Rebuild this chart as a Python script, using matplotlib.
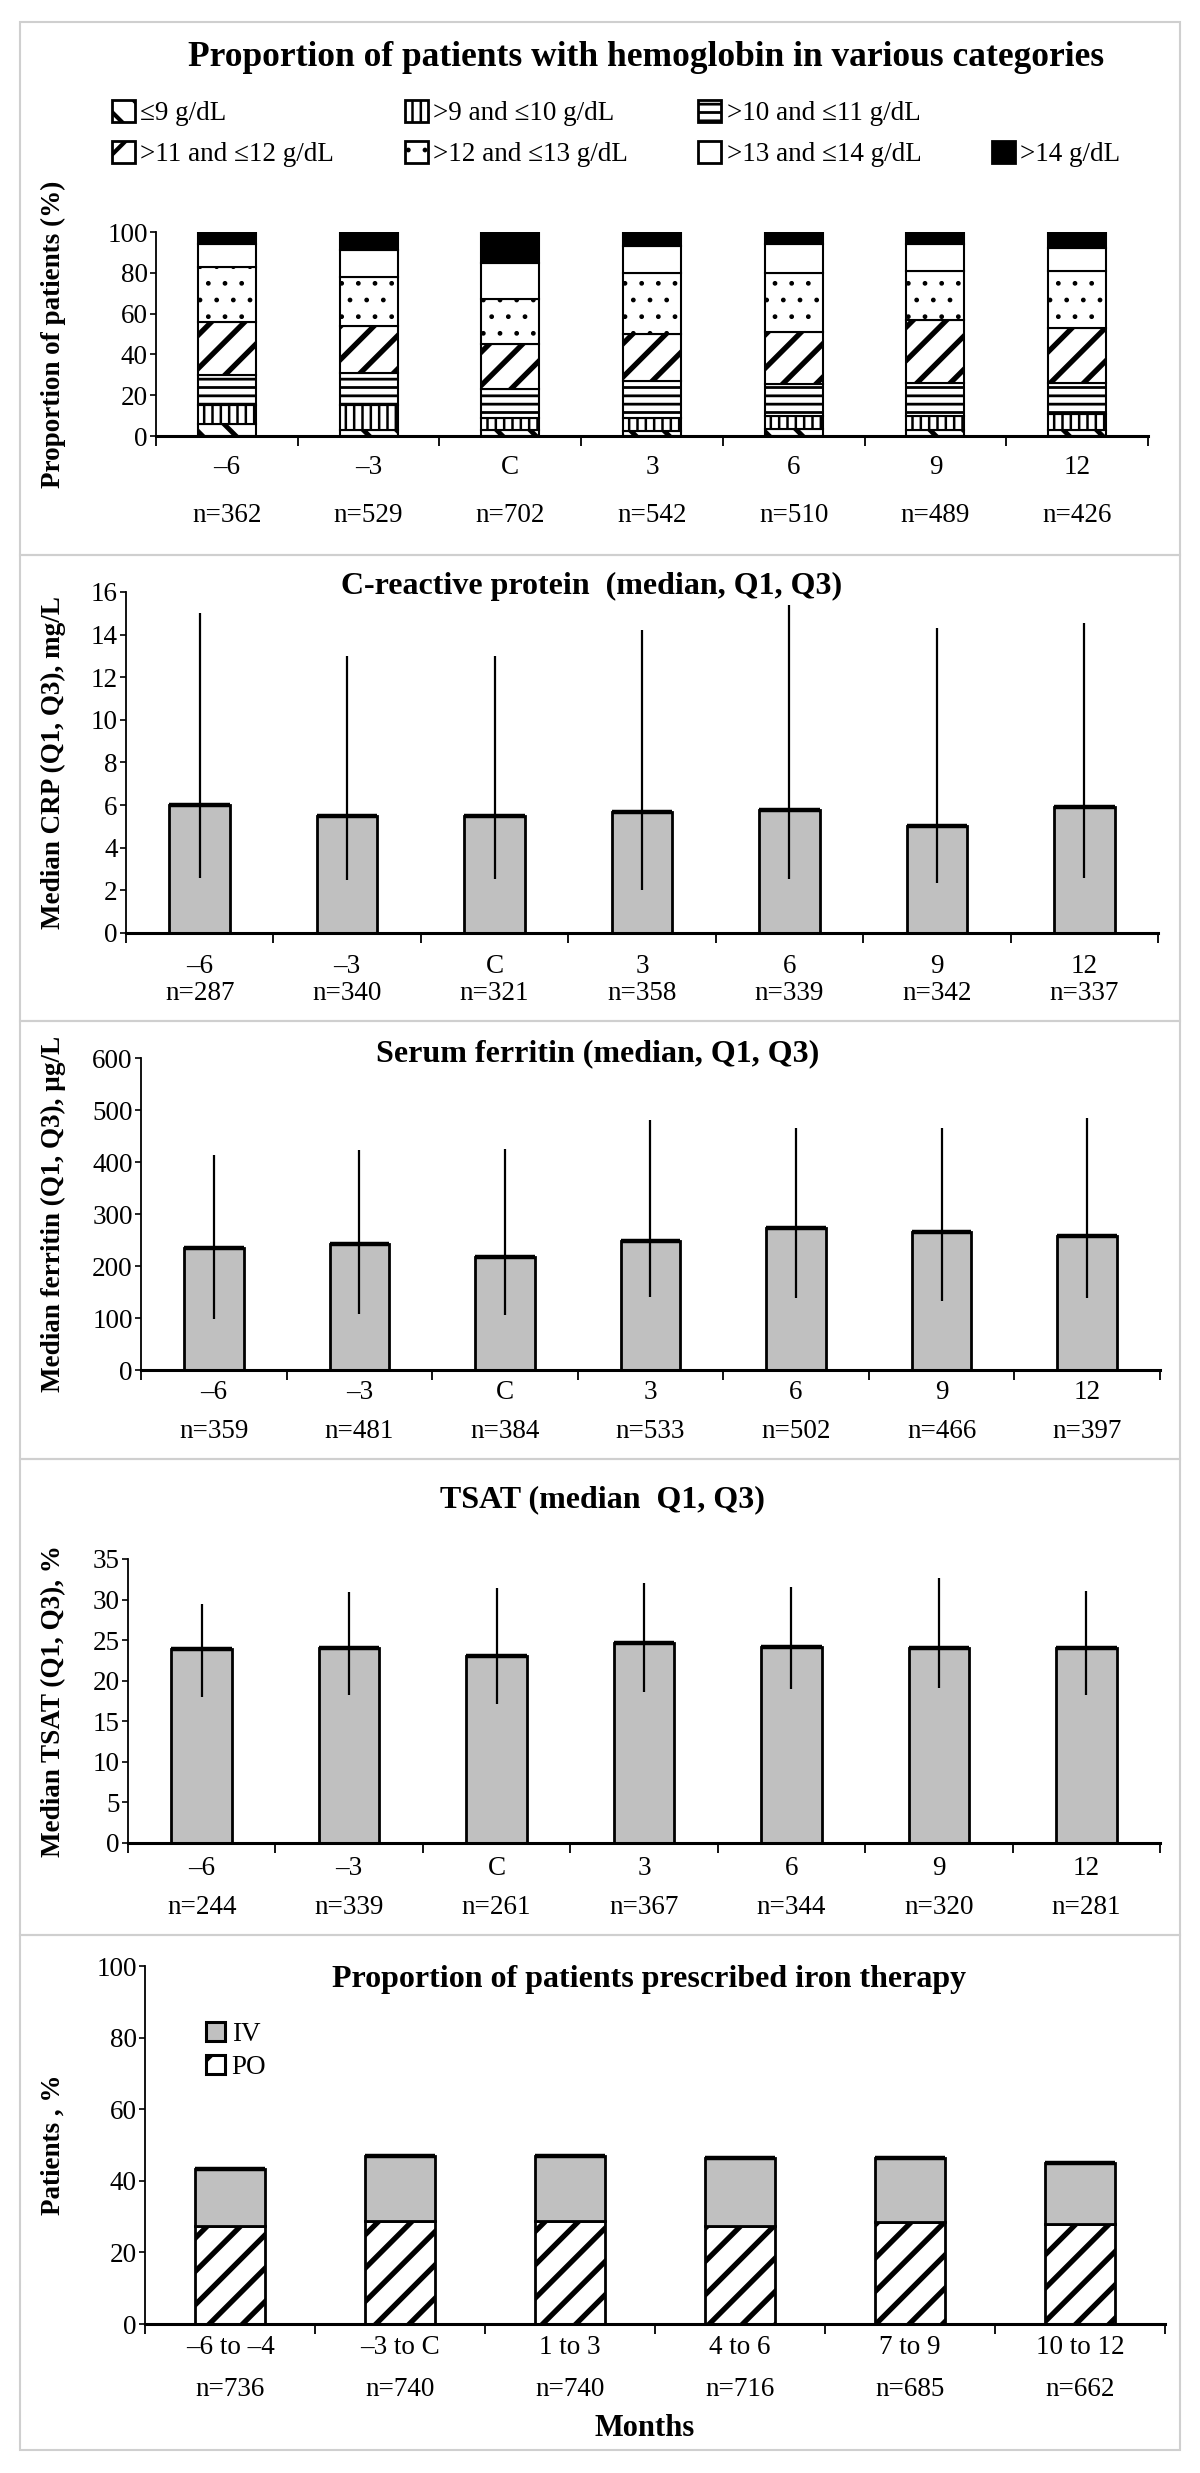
import numpy as np
import matplotlib.pyplot as plt
import matplotlib.patches as mpatches

plt.rcParams['font.family'] = ['Liberation Serif', 'DejaVu Serif']

# ---- data ----
months = ['–6', '–3', 'C', '3', '6', '9', '12']

hb_n = [362, 529, 702, 542, 510, 489, 426]
hb_labels = ['≤9 g/dL', '>9 and ≤10 g/dL', '>10 and ≤11 g/dL', '>11 and ≤12 g/dL',
             '>12 and ≤13 g/dL', '>13 and ≤14 g/dL', '>14 g/dL']
hb_le9 = [6, 3, 3, 2.5, 3.5, 3, 3]
hb_9_10 = [9, 12, 6, 6.5, 6.5, 7, 8]
hb_10_11 = [15, 16, 14, 18, 15.5, 16, 15]
hb_11_12 = [26, 23, 22, 23, 25.5, 31, 27]
hb_12_13 = [27, 24, 22, 30, 29, 24, 28]
hb_13_14 = [11, 13, 18, 13, 14, 13, 11]
hb_gt14 = [6, 9, 15, 7, 6, 6, 8]

crp_n = [287, 340, 321, 358, 339, 342, 337]
crp_median = [6.0, 5.5, 5.5, 5.7, 5.75, 5.0, 5.9]
crp_q1 = [2.6, 2.5, 2.55, 2.0, 2.55, 2.35, 2.6]
crp_q3 = [15.0, 13.0, 13.0, 14.2, 15.4, 14.3, 14.55]

ferritin_n = [359, 481, 384, 533, 502, 466, 397]
ferritin_median = [234, 243, 218, 249, 274, 265, 257]
ferritin_q1 = [98, 108, 106, 140, 138, 133, 138]
ferritin_q3 = [414, 423, 425, 481, 465, 465, 485]

tsat_n = [244, 339, 261, 367, 344, 320, 281]
tsat_median = [23.9, 24.0, 23.1, 24.7, 24.1, 24.0, 24.0]
tsat_q1 = [18.0, 18.2, 17.1, 18.6, 19.0, 19.1, 18.2]
tsat_q3 = [29.5, 30.9, 31.4, 32.1, 31.6, 32.6, 31.1]

iron_periods = ['–6 to –4', '–3 to C', '1 to 3', '4 to 6', '7 to 9', '10 to 12']
iron_n = [736, 740, 740, 716, 685, 662]
iron_po = [27.5, 28.9, 28.9, 27.5, 28.4, 28.0]
iron_iv = [15.8, 18.0, 18.0, 18.8, 18.0, 17.0]

# ---- layout ----
W, H = 1200, 2473
fig = plt.figure(figsize=(W / 100, H / 100), dpi=100)

GREY = '#c0c0c0'
TICK_FS = 19.5
YLAB_FS = 19.5
TITLE_FS = 23
BAR_W = 0.41
YLAB_X = 66


def add_ax(left, right, top, bottom):
    return fig.add_axes([left / W, 1 - bottom / H, (right - left) / W, (bottom - top) / H])


def style_axes(ax, labels, ns, left, right, ylabel, month_gap, n_gap, yticks):
    k = len(labels)
    x = np.arange(k)
    ax.set_xlim(-0.5, k - 0.5)
    ax.set_ylim(yticks[0], yticks[-1])
    ax.set_yticks(yticks)
    ax.set_xticks(x)
    ax.set_xticklabels(labels)
    ax.set_xticks(np.arange(k + 1) - 0.5, minor=True)
    ax.tick_params(axis='x', which='major', length=0, labelsize=TICK_FS,
                   pad=(month_gap - 15) * 0.72)
    ax.tick_params(axis='x', which='minor', length=7, width=1.3, direction='out')
    ax.tick_params(axis='y', length=4, width=1.2, direction='out', labelsize=TICK_FS, pad=2)
    for s in ('top', 'right'):
        ax.spines[s].set_visible(False)
    ax.spines['left'].set_linewidth(1.3)
    ax.spines['bottom'].set_linewidth(2.2)
    ax.spines['bottom'].set_zorder(5)
    for xi, n in zip(x, ns):
        ax.annotate(f'n={n}', xy=(xi, 0), xycoords=('data', 'axes fraction'),
                    xytext=(0, -n_gap * 0.72), textcoords='offset points',
                    ha='center', va='center', fontsize=TICK_FS)
    ax.set_ylabel(ylabel, fontsize=YLAB_FS, fontweight='bold')
    ax.yaxis.set_label_coords((YLAB_X - left) / (right - left), 0.5)
    return x


def median_panel(left, right, top, bottom, med, q1, q3, ns, ylabel, yticks, month_gap, n_gap):
    ax = add_ax(left, right, top, bottom)
    x = style_axes(ax, months, ns, left, right, ylabel, month_gap, n_gap, yticks)
    ax.bar(x, med, width=BAR_W, color=GREY, edgecolor='black', linewidth=2, zorder=2)
    ax.hlines(med, x - BAR_W / 2, x + BAR_W / 2, color='black', linewidth=3.2, zorder=3)
    ax.vlines(x, q1, q3, color='black', linewidth=1.6, zorder=4)
    return ax


# panel borders
for top, bottom in [(22, 555), (555, 1021), (1021, 1459), (1459, 1935), (1935, 2450)]:
    fig.add_artist(mpatches.Rectangle((20 / W, 1 - bottom / H), 1160 / W, (bottom - top) / H,
                                      transform=fig.transFigure, fill=False,
                                      edgecolor='#cfcfcf', linewidth=1.5))

# ---- panel 1: hemoglobin categories ----
hb_series = [hb_le9, hb_9_10, hb_10_11, hb_11_12, hb_12_13, hb_13_14, hb_gt14]
hb_styles = [
    dict(facecolor='white', hatch='\\', lw=3.5),
    dict(facecolor='white', hatch='||', lw=1.8),
    dict(facecolor='white', hatch='--', lw=2.0),
    dict(facecolor='white', hatch='/', lw=3.8),
    dict(facecolor='white', hatch='.', lw=1.0),
    dict(facecolor='white', hatch=None, lw=1.0),
    dict(facecolor='black', hatch=None, lw=1.0),
]
ax1 = add_ax(156, 1148, 232, 436)
x1 = style_axes(ax1, months, hb_n, 156, 1148, 'Proportion of patients (%)', 34, 79,
                np.arange(0, 101, 20))
bottom_acc = np.zeros(len(months))
for vals, st in zip(hb_series, hb_styles):
    bars = ax1.bar(x1, vals, bottom=bottom_acc, width=BAR_W, facecolor=st['facecolor'],
                   edgecolor='black', linewidth=1.5, hatch=st['hatch'], zorder=2)
    for b in bars:
        b.set_hatch_linewidth(st['lw'])
    bottom_acc = bottom_acc + np.array(vals)

handles = [mpatches.Patch(facecolor=st['facecolor'], edgecolor='black', linewidth=2.0,
                          hatch=st['hatch']) for st in hb_styles]
blank = mpatches.Patch(facecolor='none', edgecolor='none')
order = [0, 3, 1, 4, 2, 5, None, 6]
leg_h = [handles[i] if i is not None else blank for i in order]
leg_l = [hb_labels[i] if i is not None else '' for i in order]
leg1 = fig.legend(leg_h, leg_l, loc='upper left', bbox_to_anchor=(112 / W, 1 - 100 / H),
                  ncol=4, frameon=False, fontsize=TICK_FS, borderpad=0, borderaxespad=0,
                  handlelength=0.85, handleheight=0.85, handletextpad=0.2,
                  columnspacing=2.6, labelspacing=0.55)
for p, i in zip(leg1.get_patches(), order):
    if i is not None:
        p.set_hatch_linewidth(min(hb_styles[i]['lw'], 3.0))
fig.text(646 / W, 1 - 58 / H, 'Proportion of patients with hemoglobin in various categories',
         ha='center', va='center', fontsize=25.5, fontweight='bold')

# ---- panel 2: CRP ----
median_panel(126, 1158, 592, 933, crp_median, crp_q1, crp_q3, crp_n,
             'Median CRP (Q1, Q3), mg/L', np.arange(0, 17, 2), 36, 61)
fig.text(592 / W, 1 - 586 / H, 'C-reactive protein  (median, Q1, Q3)',
         ha='center', va='center', fontsize=TITLE_FS, fontweight='bold')

# ---- panel 3: ferritin ----
median_panel(141, 1160, 1058, 1370, ferritin_median, ferritin_q1, ferritin_q3, ferritin_n,
             'Median ferritin (Q1, Q3), µg/L', np.arange(0, 601, 100), 25, 61)
fig.text(598 / W, 1 - 1054 / H, 'Serum ferritin (median, Q1, Q3)',
         ha='center', va='center', fontsize=TITLE_FS, fontweight='bold')

# ---- panel 4: TSAT ----
median_panel(128, 1160, 1559, 1843, tsat_median, tsat_q1, tsat_q3, tsat_n,
             'Median TSAT (Q1, Q3), %', np.arange(0, 36, 5), 28, 65)
fig.text(602 / W, 1 - 1500 / H, 'TSAT (median  Q1, Q3)',
         ha='center', va='center', fontsize=TITLE_FS, fontweight='bold')

# ---- panel 5: iron therapy ----
ax5 = add_ax(145, 1165, 1966, 2324)
x5 = style_axes(ax5, iron_periods, iron_n, 145, 1165, 'Patients , %', 26, 66,
                np.arange(0, 101, 20))
po_bars = ax5.bar(x5, iron_po, width=BAR_W, facecolor='white', edgecolor='black',
                  linewidth=2, hatch='/', zorder=2)
for b in po_bars:
    b.set_hatch_linewidth(3.8)
ax5.bar(x5, iron_iv, bottom=iron_po, width=BAR_W, color=GREY, edgecolor='black',
        linewidth=2, zorder=2)
tops = np.array(iron_po) + np.array(iron_iv)
ax5.hlines(tops, x5 - BAR_W / 2, x5 + BAR_W / 2, color='black', linewidth=3.2, zorder=3)
ax5.set_xlabel('Months', fontsize=22, fontweight='bold', va='center')
ax5.xaxis.set_label_coords(0.49, (2324 - 2428) / (2324 - 1966))
iv_h = mpatches.Patch(facecolor=GREY, edgecolor='black', linewidth=2.2)
po_h = mpatches.Patch(facecolor='white', edgecolor='black', linewidth=2.2, hatch='/')
leg5 = fig.legend([iv_h, po_h], ['IV', 'PO'], loc='upper left',
                  bbox_to_anchor=(206 / W, 1 - 2022 / H),
                  frameon=False, fontsize=TICK_FS, borderpad=0, borderaxespad=0,
                  handlelength=0.7, handleheight=0.7, handletextpad=0.25, labelspacing=0.3)
leg5.get_patches()[1].set_hatch_linewidth(3.0)
fig.text(649 / W, 1 - 1980 / H, 'Proportion of patients prescribed iron therapy',
         ha='center', va='center', fontsize=TITLE_FS, fontweight='bold')

fig.savefig('out.png', dpi=100, facecolor='white')
